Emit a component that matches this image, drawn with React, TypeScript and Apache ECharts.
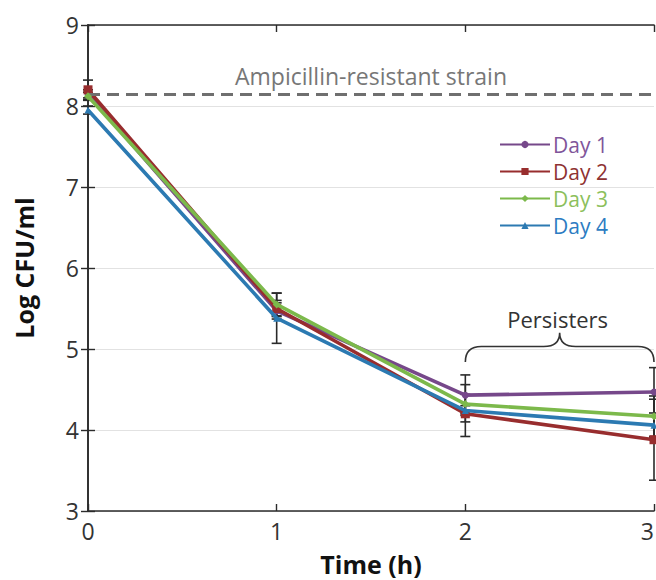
import React, { useEffect, useRef } from "react";
import * as echarts from "echarts";

// Time points (h)
const times = [0, 1, 2, 3];

// Mean log CFU/ml for each day
const day1 = [8.15, 5.47, 4.43, 4.47];
const day2 = [8.2, 5.5, 4.2, 3.88];
const day3 = [8.12, 5.55, 4.32, 4.17];
const day4 = [7.95, 5.38, 4.24, 4.06];

// Error (± half-range) for each day
const err1 = [0.05, 0.1, 0.25, 0.3];
const err2 = [0.12, 0.1, 0.1, 0.5];
const err3 = [0.05, 0.14, 0.12, 0.25];
const err4 = [0.05, 0.31, 0.32, 0.15];

const seriesNames = ["Day 1", "Day 2", "Day 3", "Day 4"];
const lineColors = ["#76488a", "#982d2e", "#7cb94b", "#2c7ab2"];
const textColors = ["#80559a", "#8e3232", "#8cbf5c", "#2c7cc2"];
const symbols = ["circle", "rect", "diamond", "triangle"];
const symbolSizes = [7, 9, 8, 7];

// Reference level of the resistant strain
const resistantLevel = 8.15;
const resistantLabel = "Ampicillin-resistant strain";

// Persister bracket span (time) and heights (log CFU/ml)
const bracketFrom = 2;
const bracketTo = 3;
const bracketFoot = 4.84;
const bracketBar = 5.03;
const bracketPeak = 5.2;
const bracketLabel = "Persisters";

const FONT = "'Open Sans', 'Noto Sans', sans-serif";

export default function App() {
  const ref = useRef<HTMLDivElement>(null);

  useEffect(() => {
    if (!ref.current) return;
    document.body.style.margin = "0";
    document.body.style.overflow = "hidden";
    const chart = echarts.init(ref.current, undefined, { renderer: "svg" });

    const means = [day1, day2, day3, day4];
    const errs = [err1, err2, err3, err4];

    const errorSeries = means.map((m, i) => ({
      type: "custom",
      name: seriesNames[i] + " error",
      z: 1,
      silent: true,
      data: times.map((t, j) => [t, m[j] - errs[i][j], m[j] + errs[i][j]]),
      renderItem: (params: any, api: any) => {
        const x = api.value(0);
        const lo = api.coord([x, api.value(1)]);
        const hi = api.coord([x, api.value(2)]);
        const cap = 5;
        const style = { stroke: "#2a2a2a", lineWidth: 1.6 };
        return {
          type: "group",
          children: [
            { type: "line", shape: { x1: lo[0], y1: lo[1], x2: hi[0], y2: hi[1] }, style },
            { type: "line", shape: { x1: lo[0] - cap, y1: lo[1], x2: lo[0] + cap, y2: lo[1] }, style },
            { type: "line", shape: { x1: hi[0] - cap, y1: hi[1], x2: hi[0] + cap, y2: hi[1] }, style },
          ],
        };
      },
    }));

    const lineSeries = means.map((m, i) => ({
      type: "line",
      name: seriesNames[i],
      z: 3 + i,
      data: times.map((t, j) => [t, m[j]]),
      symbol: symbols[i],
      symbolSize: symbolSizes[i],
      showAllSymbol: true,
      lineStyle: { color: lineColors[i], width: 3.6 },
      itemStyle: { color: lineColors[i] },
      markLine:
        i === 0
          ? {
              silent: true,
              symbol: "none",
              lineStyle: { color: "#6f6f6f", type: [12, 7], width: 3 },
              label: {
                show: true,
                position: "insideMiddleTop",
                formatter: resistantLabel,
                color: "#777777",
                fontFamily: FONT,
                fontSize: 23,
                distance: 6,
              },
              data: [{ yAxis: resistantLevel }],
            }
          : undefined,
    }));

    const bracketSeries = {
      type: "custom",
      name: "bracket",
      z: 2,
      silent: true,
      data: [[bracketFrom, bracketTo, bracketFoot, bracketBar, bracketPeak]],
      renderItem: (params: any, api: any) => {
        const a = api.coord([api.value(0), api.value(2)]);
        const b = api.coord([api.value(1), api.value(2)]);
        const yBar = api.coord([api.value(0), api.value(3)])[1];
        const yPeak = api.coord([api.value(0), api.value(4)])[1];
        const xc = (a[0] + b[0]) / 2;
        const r = 16;
        const d = [
          `M${a[0]},${a[1]}`,
          `Q${a[0]},${yBar} ${a[0] + r},${yBar}`,
          `L${xc - r},${yBar}`,
          `Q${xc},${yBar} ${xc},${yPeak}`,
          `Q${xc},${yBar} ${xc + r},${yBar}`,
          `L${b[0] - r},${yBar}`,
          `Q${b[0]},${yBar} ${b[0]},${b[1]}`,
        ].join(" ");
        return {
          type: "group",
          children: [
            {
              type: "path",
              shape: { pathData: d },
              style: { fill: "none", stroke: "#333333", lineWidth: 1.6 },
            },
            {
              type: "text",
              x: xc - 2,
              y: yPeak - 3,
              style: {
                text: bracketLabel,
                fill: "#333333",
                font: `22px ${FONT}`,
                align: "center",
                verticalAlign: "bottom",
              },
            },
          ],
        };
      },
    };

    const axisLine = { show: true, lineStyle: { color: "#2b2b2b", width: 1.6 } };
    const tick = { show: true, inside: true, length: 7, lineStyle: { color: "#2b2b2b", width: 1.4 } };

    chart.setOption({
      animation: false,
      backgroundColor: "#ffffff",
      grid: {
        left: 88,
        right: 2,
        top: 25,
        bottom: 69,
        containLabel: false,
        outerBoundsMode: "none",
      },
      legend: {
        orient: "vertical",
        left: 494,
        top: 127,
        itemWidth: 50,
        itemHeight: 9,
        itemGap: 2,
        selectedMode: false,
        data: seriesNames.map((n, i) => ({
          name: n,
          textStyle: { color: textColors[i], fontSize: 21, lineHeight: 25, fontFamily: FONT },
        })),
        textStyle: { fontFamily: FONT, fontSize: 21, lineHeight: 25, padding: [0, 0, 0, -2] },
      },
      xAxis: [
        {
          type: "value",
          min: 0,
          max: 3,
          interval: 1,
          name: "Time (h)",
          nameLocation: "middle",
          nameGap: 39,
          nameTextStyle: {
            fontFamily: FONT,
            fontWeight: "bold",
            fontSize: 25,
            lineHeight: 27,
            color: "#111",
          },
          axisLine,
          axisTick: tick,
          axisLabel: {
            color: "#333",
            fontFamily: FONT,
            fontSize: 23,
            margin: 8,
            alignMaxLabel: "right",
          },
          splitLine: { show: false },
        },
        {
          type: "value",
          position: "top",
          min: 0,
          max: 3,
          interval: 1,
          axisLine,
          axisTick: tick,
          axisLabel: { show: false },
          splitLine: { show: false },
        },
      ],
      yAxis: [
        {
          type: "value",
          min: 3,
          max: 9,
          interval: 1,
          name: "Log CFU/ml",
          nameLocation: "middle",
          nameGap: 52,
          nameTextStyle: { fontFamily: FONT, fontWeight: "bold", fontSize: 25, color: "#111" },
          axisLine,
          axisTick: tick,
          axisLabel: { color: "#333", fontFamily: FONT, fontSize: 23, margin: 9 },
          splitLine: { show: true, lineStyle: { color: "#e2e2e2", width: 1 } },
        },
        {
          type: "value",
          position: "right",
          min: 3,
          max: 9,
          interval: 1,
          axisLine,
          axisTick: tick,
          axisLabel: { show: false },
          splitLine: { show: false },
        },
      ],
      series: [...errorSeries, bracketSeries, ...lineSeries],
    });

    return () => chart.dispose();
  }, []);

  return <div ref={ref} style={{ position: "absolute", left: 0, top: 0, width: 656, height: 580 }} />;
}
